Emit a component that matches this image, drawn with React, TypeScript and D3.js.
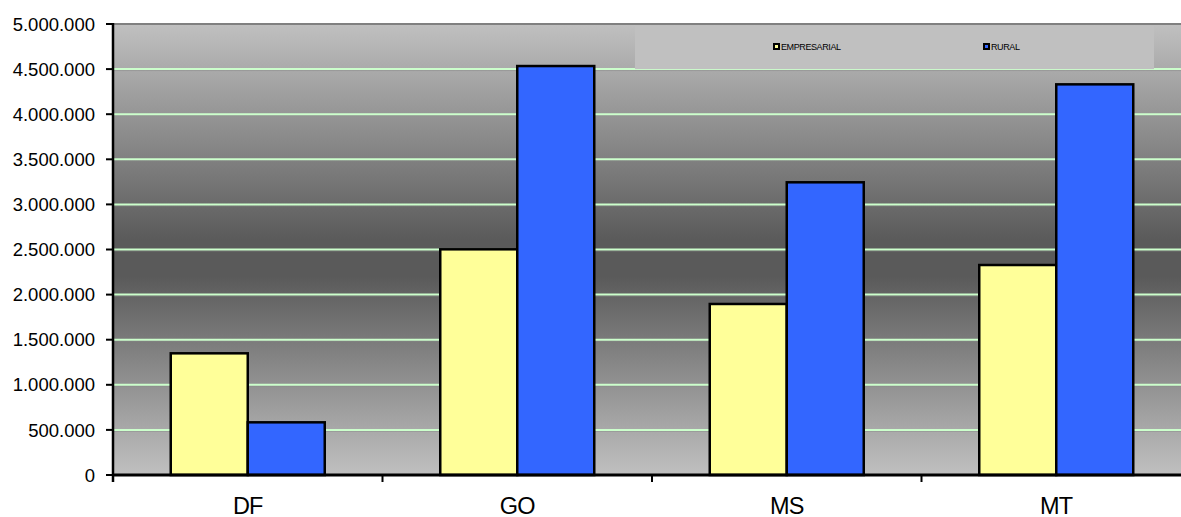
import React from "react";
import * as d3 from "d3";

const categories = ["DF", "GO", "MS", "MT"];
const seriesNames = ["EMPRESARIAL", "RURAL"];
const empresarial = [1349000, 2502000, 1896000, 2328000];
const rural = [584000, 4534000, 3245000, 4331000];
const yTicks = [0, 500000, 1000000, 1500000, 2000000, 2500000, 3000000, 3500000, 4000000, 4500000, 5000000];
const colors = ["#ffff99", "#3366ff"];

const W = 1181;
const H = 517;
const left = 113;
const top = 24;
const bottom = 475;
const bandW = 269.5;

const fmt = (v: number) => {
  const s = d3.format(",")(v);
  return s.replace(/,/g, ".");
};

export default function App() {
  const x = d3.scaleBand<string>().domain(categories).range([left, left + bandW * categories.length]).padding(0);
  const y = d3.scaleLinear().domain([0, 5000000]).range([bottom, top]);
  const barW = x.bandwidth() / 3.5;
  const series = [empresarial, rural];
  const font = "'Liberation Sans', Arial, sans-serif";

  return (
    <svg width={W} height={H} style={{ position: "absolute", left: 0, top: 0, background: "#fff" }}>
      <defs>
        <linearGradient id="bg" x1="0" y1="0" x2="0" y2="1">
          <stop offset="0%" stopColor="#c0c0c0" />
          <stop offset="48%" stopColor="#5a5a5a" />
          <stop offset="56%" stopColor="#5a5a5a" />
          <stop offset="100%" stopColor="#c0c0c0" />
        </linearGradient>
      </defs>
      <rect x={left} y={top} width={W - left} height={bottom - top} fill="url(#bg)" />
      <line x1={left} x2={W} y1={top} y2={top} stroke="#808080" strokeWidth={2} />
      {yTicks.filter((t) => t > 0 && t < 5000000).map((t) => (
        <g key={"g" + t}>
          <line x1={left} x2={W} y1={y(t) + 1.5} y2={y(t) + 1.5} stroke="#8a8a8a" strokeOpacity={0.5} strokeWidth={1} />
          <line x1={left} x2={W} y1={y(t)} y2={y(t)} stroke="#ccffcc" strokeWidth={2} />
        </g>
      ))}
      {/* legend */}
      <rect x={635} y={top + 2} width={519} height={y(4500000) - top - 2} fill="#c0c0c0" />
      {seriesNames.map((n, i) => {
        const lx = i === 0 ? 774 : 984;
        return (
          <g key={n}>
            <rect x={lx} y={44} width={5} height={5} fill={colors[i]} stroke="#000" strokeWidth={2} />
            <text x={lx + 7} y={50} fontFamily={font} fontSize={9} fill="#000" letterSpacing={-0.4}>{n}</text>
          </g>
        );
      })}
      {/* bars */}
      {categories.map((c, ci) =>
        series.map((s, si) => {
          const bx = (x(c) as number) + barW * 0.75 + si * barW;
          return (
            <rect key={c + si} x={bx} y={y(s[ci])} width={barW} height={bottom - y(s[ci])}
              fill={colors[si]} stroke="#000" strokeWidth={2.5} />
          );
        })
      )}
      {/* axes */}
      <line x1={left} x2={left} y1={top - 1} y2={bottom + 7} stroke="#000" strokeWidth={2.5} />
      <line x1={left - 1} x2={W} y1={bottom} y2={bottom} stroke="#000" strokeWidth={3} />
      {yTicks.map((t) => (
        <g key={t}>
          <line x1={left - 7} x2={left} y1={y(t)} y2={y(t)} stroke="#000" strokeWidth={2} />
          <text x={95} y={y(t)} dy="0.36em" textAnchor="end" fontFamily={font} fontSize={18.5} fill="#000">{fmt(t)}</text>
        </g>
      ))}
      {categories.map((c, i) => (
        <g key={c}>
          {i > 0 && <line x1={x(c) as number} x2={x(c) as number} y1={bottom} y2={bottom + 7} stroke="#000" strokeWidth={2} />}
          <text x={(x(c) as number) + x.bandwidth() / 2} y={514} textAnchor="middle" fontFamily={font} fontSize={23.5} fill="#000" letterSpacing={-0.8}>{c}</text>
        </g>
      ))}
    </svg>
  );
}
